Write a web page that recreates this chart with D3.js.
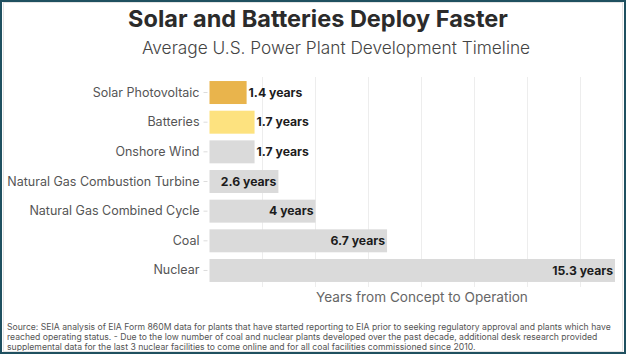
<!DOCTYPE html>
<html>
<head>
<meta charset="utf-8">
<script src="https://cdn.jsdelivr.net/npm/d3@7"></script>
<style>
  html, body { margin: 0; padding: 0; background: #fff; }
  svg { display: block; }
</style>
</head>
<body>
<svg id="chart" width="626" height="354"></svg>
<script>
// ---- data ----
const categories = [
  "Solar Photovoltaic",
  "Batteries",
  "Onshore Wind",
  "Natural Gas Combustion Turbine",
  "Natural Gas Combined Cycle",
  "Coal",
  "Nuclear"
];
const values = [1.4, 1.7, 1.7, 2.6, 4, 6.7, 15.3];
const valueLabels = ["1.4 years", "1.7 years", "1.7 years", "2.6 years", "4 years", "6.7 years", "15.3 years"];
const gridTicks = [2, 4, 6, 8, 10, 12, 14];
const barColors = ["#e9b44c", "#fde27f", "#dadada", "#dadada", "#dadada", "#dadada", "#dadada"];
const titleText = "Solar and Batteries Deploy Faster";
const subtitleText = "Average U.S. Power Plant Development Timeline";
const axisTitle = "Years from Concept to Operation";
const footnoteLines = [
  "Source: SEIA analysis of EIA Form 860M data for plants that have started reporting to EIA prior to seeking regulatory approval and plants which have",
  "reached operating status. - Due to the low number of coal and nuclear plants developed over the past decade, additional desk research provided",
  "supplemental data for the last 3 nuclear facilities to come online and for all coal facilities commissioned since 2010."
];

// ---- drawing ----
const W = 626, H = 354;
const svg = d3.select("#chart");
const FONT = "Inter, 'Open Sans', 'DejaVu Sans', sans-serif";

svg.append("rect").attr("x", 0).attr("y", 0).attr("width", W).attr("height", H).attr("fill", "#fff");

const x = d3.scaleLinear().domain([0, 15.3]).range([209.5, 615]);
const y = d3.scaleBand().domain(categories).range([77.7, 285.3]).paddingInner(0.225).paddingOuter(0.1125);

// gridlines
svg.append("g").selectAll("line").data(gridTicks).join("line")
  .attr("x1", d => x(d)).attr("x2", d => x(d))
  .attr("y1", 77).attr("y2", 287)
  .attr("stroke", "#ededed").attr("stroke-width", 1);

// y axis (labels + tiny ticks, no domain)
const yAxis = svg.append("g")
  .attr("transform", `translate(${x(0) - 2},0)`)
  .call(d3.axisLeft(y).tickSize(4).tickPadding(4));
yAxis.select(".domain").remove();
yAxis.selectAll(".tick line").attr("stroke", "#dcdcdc");
yAxis.selectAll(".tick text")
  .attr("font-family", FONT).attr("font-size", 12.5).attr("fill", "#555");

// bars
svg.append("g").selectAll("rect").data(values).join("rect")
  .attr("x", x(0))
  .attr("y", (d, i) => y(categories[i]))
  .attr("width", d => x(d) - x(0))
  .attr("height", y.bandwidth())
  .attr("fill", (d, i) => barColors[i]);

// value labels
const vl = svg.append("g").selectAll("text").data(values).join("text")
  .attr("y", (d, i) => y(categories[i]) + y.bandwidth() / 2)
  .attr("dy", "0.35em")
  .attr("font-family", FONT).attr("font-size", 12.2).attr("font-weight", 700)
  .attr("fill", "#1c1c1c")
  .text((d, i) => valueLabels[i]);
vl.each(function(d) {
  const t = d3.select(this);
  const w = this.getComputedTextLength();
  const bw = x(d) - x(0);
  if (w + 6 < bw) {
    t.attr("x", x(d) - 2).attr("text-anchor", "end");
  } else {
    t.attr("x", x(d) + 2).attr("text-anchor", "start");
  }
});

// axis title
svg.append("text")
  .attr("x", 422).attr("y", 302)
  .attr("text-anchor", "middle")
  .attr("font-family", FONT).attr("font-size", 13.6).attr("fill", "#666")
  .text(axisTitle);

// titles
svg.append("text")
  .attr("x", 318).attr("y", 27)
  .attr("text-anchor", "middle")
  .attr("font-family", FONT).attr("font-size", 23.5).attr("font-weight", 700).attr("fill", "#2b2b2b")
  .text(titleText);
svg.append("text")
  .attr("x", 336).attr("y", 54)
  .attr("text-anchor", "middle")
  .attr("font-family", FONT).attr("font-size", 17.3).attr("font-weight", 300).attr("fill", "#444")
  .text(subtitleText);

// footnote
svg.append("g").selectAll("text").data(footnoteLines).join("text")
  .attr("x", 7).attr("y", (d, i) => 329.5 + i * 10.2)
  .attr("font-family", FONT).attr("font-size", 8.65).attr("fill", "#555")
  .text(d => d);

// frame
svg.append("rect").attr("x", 3.5).attr("y", 2.5).attr("width", W - 7).attr("height", H - 5)
  .attr("fill", "none").attr("stroke", "#e4e4e4").attr("stroke-width", 1);
svg.append("rect").attr("x", 1).attr("y", 1).attr("width", W - 2).attr("height", H - 2)
  .attr("fill", "none").attr("stroke", "#1f5060").attr("stroke-width", 2);
</script>
</body>
</html>
